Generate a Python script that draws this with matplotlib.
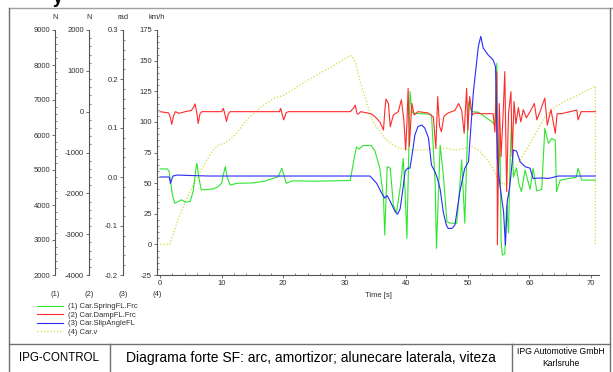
import numpy as np
import matplotlib.pyplot as plt
from matplotlib.lines import Line2D
from matplotlib.ticker import MultipleLocator, FormatStrFormatter

plt.rcParams['font.family'] = ['Liberation Sans', 'DejaVu Sans']
plt.rcParams['axes.unicode_minus'] = False

# (1) Car.SpringFL.Frc [N]
t_spring = [0.0, 1.2, 1.5, 2.0, 2.4, 3.0, 3.5, 4.1, 4.9, 5.4, 5.8, 6.0, 6.3, 6.7, 7.5, 8.6, 9.4,
            10.0, 10.4, 10.6, 10.9, 11.4, 12.5, 15.0, 17.0, 19.2, 19.8, 20.2, 20.5, 21.5, 25.0,
            30.9, 31.5, 31.9, 32.3, 33.0, 34.3, 34.9, 35.7, 36.3, 36.5, 36.9, 37.4, 37.9, 38.4,
            39.1, 39.5, 39.8, 40.1, 40.4, 40.6, 40.9, 41.1, 43.5, 44.1, 44.7, 44.9, 45.5, 46.0,
            46.6, 47.2, 48.2, 48.6, 49.0, 49.5, 50.1, 50.6, 51.7, 53.9, 54.4, 54.7, 54.9, 55.2,
            55.4, 55.6, 56.0, 56.3, 56.6, 56.9, 57.1, 57.4, 57.9, 58.3, 58.7, 59.3, 60.1, 60.6,
            61.2, 62.0, 62.5, 63.1, 63.6, 64.2, 64.4, 65.0, 66.5, 67.6, 67.9, 68.5, 70.7]
spring = [5030, 5030, 4950, 4300, 4050, 4100, 4150, 4080, 4100, 4400, 5000, 5190, 4800, 4430, 4440,
          4460, 4520, 4620, 4950, 5095, 4800, 4570, 4620, 4630, 4680, 4810, 5050, 4800, 4620, 4690,
          4680, 4700, 5300, 5660, 5600, 5700, 5700, 5550, 5050, 4190, 3140, 5095, 5050, 4000, 3770,
          4600, 5330, 4400, 3050, 5500, 7240, 6700, 6620, 6600, 6570, 4570, 2760, 5710, 4900, 3520,
          3480, 3480, 4300, 5290, 3480, 6950, 6670, 6650, 6380, 6290, 8050, 4500, 6000, 3000, 2570,
          2600, 4000, 3200, 5500, 6380, 4800, 5050, 4600, 4380, 5000, 4450, 5050, 4400, 4450, 6190,
          5760, 5900, 5850, 4380, 4710, 4760, 4790, 5050, 4710, 4710]

# (2) Car.DampFL.Frc [N]
t_damp = [0.0, 1.4, 1.7, 1.9, 2.2, 2.5, 3.1, 4.1, 5.1, 5.5, 5.7, 6.0, 6.2, 6.5, 6.8, 10.0, 10.3,
          10.6, 10.8, 11.1, 11.4, 19.4, 19.6, 19.9, 20.1, 20.5, 20.9, 30.9, 31.5, 31.7, 32.0, 32.2,
          32.6, 33.6, 34.4, 34.9, 35.7, 36.3, 36.5, 36.7, 37.1, 37.4, 37.9, 38.7, 39.2, 39.6, 39.9,
          40.1, 40.3, 40.5, 40.9, 41.3, 41.9, 43.5, 44.4, 44.8, 45.1, 45.4, 45.7, 46.1, 46.6, 47.0,
          47.9, 48.5, 49.0, 49.4, 49.8, 50.0, 50.3, 50.7, 51.2, 52.2, 54.1, 54.4, 54.7, 54.8, 55.1,
          55.4, 55.8, 56.0, 56.3, 56.6, 57.0, 57.2, 57.5, 57.8, 58.2, 58.6, 59.0, 59.5, 60.1, 60.8,
          61.2, 61.6, 62.5, 62.9, 63.5, 64.2, 64.5, 65.2, 67.4, 67.7, 67.9, 68.4, 70.7]
damp = [0, -30, -150, -310, -100, 0, -40, 0, 30, 120, 190, -50, -290, -50, 0, 0, 80, -100, -240,
        -50, 0, 0, 80, -100, -200, -20, 0, 0, 100, 160, -50, -60, 0, -30, -60, -120, -250, -450, 0,
        310, 200, -370, -80, 0, 290, -200, -940, -300, 570, -850, 200, -80, 0, -30, -130, -900, 370,
        -350, -490, -120, -50, -20, 30, 200, 30, -530, 570, -450, 370, -80, -30, -50, -50, -500, 980,
        -3260, 200, -1100, 200, 980, -1960, -50, 490, -1100, 250, -300, 100, -250, 50, -150, 0, 200,
        -200, -50, 330, -330, 50, -530, -50, -50, 30, 40, -200, 0, 0]

# (3) Car.SlipAngleFL [rad]
t_slip = [0.0, 1.5, 1.7, 2.1, 2.8, 5.0, 8.0, 30.9, 34.1, 35.2, 36.0, 36.5, 36.9, 37.4, 38.2, 38.6,
          39.0, 39.5, 39.8, 40.2, 40.6, 41.0, 41.4, 41.9, 42.5, 43.0, 43.6, 44.1, 44.7, 45.1, 45.5,
          46.0, 46.5, 46.8, 47.4, 47.9, 48.7, 49.5, 50.1, 50.9, 51.7, 52.1, 52.5, 53.3, 54.1, 54.5,
          54.8, 55.2, 55.8, 56.1, 56.4, 56.8, 57.4, 57.9, 58.5, 59.3, 60.1, 60.6, 62.0, 63.1, 64.7,
          70.7]
slip = [0.0, 0.0, -0.013, 0.002, 0.004, 0.003, 0.002, 0.002, 0.002, -0.013, -0.033, -0.043, -0.038,
        -0.050, -0.071, -0.076, -0.065, -0.02, 0.011, 0.018, 0.018, 0.05, 0.086, 0.103, 0.106, 0.100,
        0.080, 0.024, 0.01, -0.005, -0.025, -0.071, -0.098, -0.105, -0.105, -0.098, -0.030, 0.018,
        0.031, 0.174, 0.266, 0.287, 0.263, 0.249, 0.239, 0.225, 0.038, -0.016, -0.071, -0.139, -0.05,
        -0.02, 0.055, 0.053, 0.031, 0.021, 0.018, -0.003, -0.002, -0.003, 0.002, 0.002]

# (4) Car.v [km/h]
t_v = [0.0, 1.6, 3.0, 4.6, 6.8, 8.4, 9.5, 10.6, 12.2, 14.3, 16.5, 18.7, 20.0, 21.9, 23.6, 25.5, 28.2,
       30.6, 31.1, 31.7, 32.5, 33.6, 34.6, 35.7, 36.8, 37.9, 39.0, 40.6, 42.8, 44.4, 46.6, 47.9,
       49.5, 50.6, 51.7, 53.0, 54.1, 54.9, 55.8, 56.6, 57.7, 59.3, 60.9, 62.5, 64.2, 65.8, 67.4,
       69.0, 70.7, 70.7]
v = [0, 0, 21.3, 40.3, 62, 75.6, 81.1, 82.5, 89.3, 102.9, 112.4, 119.8, 121.4, 127.4, 132.8, 138.3,
     145.9, 153.2, 154, 149.1, 132.8, 115.2, 100.1, 92, 85.2, 81.1, 78.4, 77.0, 77.0, 78.4, 78.4,
     77.0, 78.4, 79.8, 77.0, 70.2, 62, 52.6, 48.5, 52.6, 62, 75.6, 89.3, 104.2, 112.4, 117, 120.6,
     124.6, 129.3, 0]

labels = ['(1) Car.SpringFL.Frc', '(2) Car.DampFL.Frc', '(3) Car.SlipAngleFL', '(4) Car.v']
units = ['N', 'N', 'rad', 'km/h']

W, H = 613, 372
fig = plt.figure(figsize=(W / 100, H / 100), dpi=100)


def fx(px):
    return px / W


def fy(py):
    return 1 - py / H


pos = [fx(157), fy(275), (599 - 157) / W, 245 / H]
ax_v = fig.add_axes(pos)
ax_f = fig.add_axes(pos, sharex=ax_v)
ax_d = fig.add_axes(pos, sharex=ax_v)
ax_s = fig.add_axes(pos, sharex=ax_v)

axc = '#555555'
tc = '#303030'
fs = 5.5

ax_v.set_xlim(-0.487, 71.3)
l4, = ax_v.plot(t_v, v, color='#d8d838', lw=0.9, ls=(0, (1, 1.6)))
l1, = ax_f.plot(t_spring, spring, color='#2ee62e', lw=0.8)
l2, = ax_d.plot(t_damp, damp, color='#ff2a2a', lw=0.8)
l3, = ax_s.plot(t_slip, slip, color='#2a2aff', lw=0.8)

ax_v.set_ylim(-25, 175)
ax_f.set_ylim(2000, 9000)
ax_d.set_ylim(-4000, 2000)
ax_s.set_ylim(-0.2, 0.3)

setup = [(ax_f, -102 / 442, 1000, 200, None),
         (ax_d, -68 / 442, 1000, 200, None),
         (ax_s, -34 / 442, 0.1, 0.02, '%.1f'),
         (ax_v, 0.0, 25, 5, None)]
for i, (ax, sp, maj, mnr, fmt) in enumerate(setup):
    for s in ['top', 'right']:
        ax.spines[s].set_visible(False)
    ax.spines['left'].set_position(('axes', sp))
    ax.spines['left'].set_color(axc)
    ax.spines['left'].set_linewidth(0.8)
    ax.yaxis.set_major_locator(MultipleLocator(maj))
    ax.yaxis.set_minor_locator(MultipleLocator(mnr))
    if fmt:
        ax.yaxis.set_major_formatter(FormatStrFormatter(fmt))
    ax.tick_params(axis='y', which='major', direction='out', length=2.5, width=0.6,
                   color=axc, labelsize=fs, labelcolor=tc, pad=1)
    ax.tick_params(axis='y', which='minor', direction='in', length=1.3, width=0.5, color=axc)
    ax.text(sp, 1.053, units[i], transform=ax.transAxes, ha='center', va='center',
            fontsize=fs, color=tc)
    ax.text(sp, -0.078, '(%d)' % (i + 1), transform=ax.transAxes, ha='center', va='center',
            fontsize=fs, color=tc)
    if ax is not ax_v:
        ax.patch.set_visible(False)
        ax.spines['bottom'].set_visible(False)
        ax.tick_params(axis='x', which='both', bottom=False, labelbottom=False)

ax_v.spines['bottom'].set_color(axc)
ax_v.spines['bottom'].set_linewidth(0.8)
ax_v.xaxis.set_major_locator(MultipleLocator(10))
ax_v.xaxis.set_minor_locator(MultipleLocator(2))
ax_v.tick_params(axis='x', which='major', direction='out', length=2.5, width=0.6,
                 color=axc, labelsize=fs, labelcolor=tc, pad=1)
ax_v.tick_params(axis='x', which='minor', direction='in', length=1.3, width=0.5, color=axc)
ax_v.text(0.5, -0.085, 'Time [s]', transform=ax_v.transAxes, ha='center', va='center',
          fontsize=fs, color=tc)

fig.legend([l1, l2, l3, l4], labels, loc='upper left', bbox_to_anchor=(fx(37), fy(303)),
           frameon=False, fontsize=fs, handlelength=3.4, handletextpad=0.6,
           labelspacing=0.15, borderaxespad=0, borderpad=0, labelcolor=tc)

# frame and title block
fc = '#707070'
frame = [([9, 613], [8, 8], '#a0a0a0'),
         ([9, 9], [8, 372], fc),
         ([610, 610], [8, 372], fc),
         ([9, 610], [344, 344], fc),
         ([110, 110], [344, 372], fc),
         ([512, 512], [344, 372], fc)]
for xs, ys, c in frame:
    fig.add_artist(Line2D([fx(x) for x in xs], [fy(y) for y in ys],
                          transform=fig.transFigure, color=c, lw=1.0))

fig.text(fx(58), fy(3), 'y', ha='center', va='baseline', fontsize=13, fontweight='bold')
fig.text(fx(59.5), fy(358), 'IPG-CONTROL', ha='center', va='center', fontsize=8.3)
fig.text(fx(311), fy(358), 'Diagrama forte SF: arc, amortizor; alunecare laterala, viteza',
         ha='center', va='center', fontsize=10.0)
fig.text(fx(561), fy(352), 'IPG Automotive GmbH', ha='center', va='center', fontsize=6.2)
fig.text(fx(561), fy(363), 'Karlsruhe', ha='center', va='center', fontsize=6.2)

fig.savefig('out.png', dpi=100)
